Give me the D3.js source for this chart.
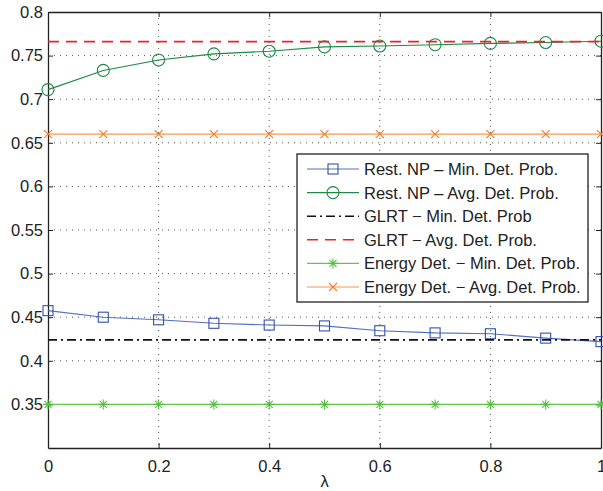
<!DOCTYPE html>
<html>
<head>
<meta charset="utf-8">
<script src="https://cdn.jsdelivr.net/npm/d3@7"></script>
<style>
  body { margin: 0; background: #fff; }
  text { font-family: "Liberation Sans", Arial, sans-serif; }
</style>
</head>
<body>
<div id="wrapper"></div>
<script>
const lambdas = [0, 0.1, 0.2, 0.3, 0.4, 0.5, 0.6, 0.7, 0.8, 0.9, 1]
const restMin = [0.4575, 0.450, 0.447, 0.443, 0.441, 0.440, 0.4345, 0.432, 0.431, 0.426, 0.422]
const restAvg = [0.711, 0.733, 0.745, 0.752, 0.755, 0.760, 0.761, 0.7625, 0.764, 0.765, 0.7665]
const glrtMin = [0.424, 0.424, 0.424, 0.424, 0.424, 0.424, 0.424, 0.424, 0.424, 0.424, 0.424]
const glrtAvg = [0.766, 0.766, 0.766, 0.766, 0.766, 0.766, 0.766, 0.766, 0.766, 0.766, 0.766]
const energyMin = [0.35, 0.35, 0.35, 0.35, 0.35, 0.35, 0.35, 0.35, 0.35, 0.35, 0.35]
const energyAvg = [0.66, 0.66, 0.66, 0.66, 0.66, 0.66, 0.66, 0.66, 0.66, 0.66, 0.66]
const xTicks = [0, 0.2, 0.4, 0.6, 0.8, 1]
const yTicks = [0.35, 0.4, 0.45, 0.5, 0.55, 0.6, 0.65, 0.7, 0.75, 0.8]

const series = [
  { name: "Rest. NP \u2013 Min. Det. Prob.", values: restMin, color: "#3350b0", line: "#5070c0", dash: null, marker: "square" },
  { name: "Rest. NP \u2013 Avg. Det. Prob.", values: restAvg, color: "#1a8a45", line: "#1a8a45", dash: null, marker: "circle" },
  { name: "GLRT \u2212 Min. Det. Prob", values: glrtMin, color: "#111", line: "#111", dash: "9,4,2,4", marker: null },
  { name: "GLRT \u2212 Avg. Det. Prob.", values: glrtAvg, color: "#e8242a", line: "#e8242a", dash: "11,7", marker: null },
  { name: "Energy Det. \u2212 Min. Det. Prob.", values: energyMin, color: "#55c040", line: "#66c450", dash: null, marker: "star" },
  { name: "Energy Det. \u2212 Avg. Det. Prob.", values: energyAvg, color: "#f07d2a", line: "#f09a55", dash: null, marker: "x" },
]

const fontSize = 16.5

const dimensions = {
  width: 603,
  height: 491,
  margin: { top: 12, right: 2, bottom: 43, left: 48 },
}
dimensions.boundedWidth = dimensions.width - dimensions.margin.left - dimensions.margin.right
dimensions.boundedHeight = dimensions.height - dimensions.margin.top - dimensions.margin.bottom

const wrapper = d3.select("#wrapper")
  .append("svg")
    .attr("width", dimensions.width)
    .attr("height", dimensions.height)

const bounds = wrapper.append("g")
    .attr("transform", `translate(${dimensions.margin.left},${dimensions.margin.top})`)

const xScale = d3.scaleLinear()
  .domain([0, 1])
  .range([0, dimensions.boundedWidth])
const yScale = d3.scaleLinear()
  .domain([0.3, 0.8])
  .range([dimensions.boundedHeight, 0])

// grid
bounds.append("g")
  .selectAll("line")
  .data(xTicks.slice(1, -1))
  .join("line")
    .attr("x1", d => xScale(d)).attr("x2", d => xScale(d))
    .attr("y1", 0).attr("y2", dimensions.boundedHeight)
    .attr("stroke", "#555").attr("stroke-width", 1)
    .attr("stroke-dasharray", "1,5")
bounds.append("g")
  .selectAll("line")
  .data(yTicks.slice(0, -1))
  .join("line")
    .attr("x1", 0).attr("x2", dimensions.boundedWidth)
    .attr("y1", d => yScale(d)).attr("y2", d => yScale(d))
    .attr("stroke", "#555").attr("stroke-width", 1)
    .attr("stroke-dasharray", "1,5")

// axes, ticks pointing inward on all four sides
const fmt = d => d3.format("")(d)
const xAxis = bounds.append("g")
  .attr("transform", `translate(0,${dimensions.boundedHeight})`)
  .call(d3.axisBottom(xScale).tickValues(xTicks).tickSizeInner(-5).tickSizeOuter(0).tickPadding(12).tickFormat(fmt))
const xAxisTop = bounds.append("g")
  .call(d3.axisTop(xScale).tickValues(xTicks).tickSizeInner(-5).tickSizeOuter(0).tickFormat(""))
const yAxis = bounds.append("g")
  .call(d3.axisLeft(yScale).tickValues(yTicks).tickSizeInner(-5).tickSizeOuter(0).tickPadding(5).tickFormat(fmt))
const yAxisRight = bounds.append("g")
  .attr("transform", `translate(${dimensions.boundedWidth},0)`)
  .call(d3.axisRight(yScale).tickValues(yTicks).tickSizeInner(-5).tickSizeOuter(0).tickFormat(""))

;[xAxis, xAxisTop, yAxis, yAxisRight].forEach(a => {
  a.selectAll(".domain").attr("stroke", "#222").attr("stroke-width", 1.3)
  a.selectAll(".tick line").attr("stroke", "#222")
  a.selectAll("text").attr("font-size", fontSize).attr("fill", "#222")
    .style("font-family", "'Liberation Sans', Arial, sans-serif")
})

wrapper.append("text")
  .attr("x", dimensions.margin.left + dimensions.boundedWidth / 2)
  .attr("y", 487)
  .attr("text-anchor", "middle")
  .attr("font-size", fontSize)
  .attr("fill", "#222")
  .text("\u03bb")

// markers
function drawMarker(g, type, color) {
  if (type === "square") {
    g.append("rect").attr("x", -5).attr("y", -5).attr("width", 10).attr("height", 10)
      .attr("fill", "none").attr("stroke", color).attr("stroke-width", 1.1)
  } else if (type === "circle") {
    g.append("circle").attr("r", 6)
      .attr("fill", "none").attr("stroke", color).attr("stroke-width", 1.1)
  } else if (type === "star") {
    g.append("path").attr("d", "M-5,0L5,0M0,-5L0,5M-3.5,-3.5L3.5,3.5M-3.5,3.5L3.5,-3.5")
      .attr("stroke", color).attr("stroke-width", 1.1)
  } else if (type === "x") {
    g.append("path").attr("d", "M-4,-4L4,4M-4,4L4,-4")
      .attr("stroke", color).attr("stroke-width", 1.1)
  }
}

const lineGen = d3.line()
  .x((d, i) => xScale(lambdas[i]))
  .y(d => yScale(d))

const plot = bounds.append("g")
series.forEach(s => {
  plot.append("path")
    .attr("d", lineGen(s.values))
    .attr("fill", "none")
    .attr("stroke", s.line)
    .attr("stroke-width", s.dash ? 1.6 : 1.1)
    .attr("stroke-dasharray", s.dash)
  if (s.marker) {
    s.values.forEach((v, i) => {
      const g = plot.append("g")
        .attr("transform", `translate(${xScale(lambdas[i])},${yScale(v)})`)
      drawMarker(g, s.marker, s.color)
    })
  }
})

// legend
const legend = wrapper.append("g").attr("transform", "translate(297,154)")
legend.append("rect")
  .attr("width", 291).attr("height", 148)
  .attr("fill", "#fff").attr("stroke", "#222").attr("stroke-width", 1.3)
series.forEach((s, i) => {
  const row = legend.append("g").attr("transform", `translate(0,${15 + i * 23.6})`)
  row.append("line")
    .attr("x1", 10).attr("x2", 62)
    .attr("stroke", s.line)
    .attr("stroke-width", s.dash ? 1.6 : 1.1)
    .attr("stroke-dasharray", s.dash)
  if (s.marker) drawMarker(row.append("g").attr("transform", "translate(36,0)"), s.marker, s.color)
  row.append("text")
    .attr("x", 67).attr("y", 6)
    .attr("font-size", fontSize)
    .attr("fill", "#222")
    .text(s.name)
})
</script>
</body>
</html>
